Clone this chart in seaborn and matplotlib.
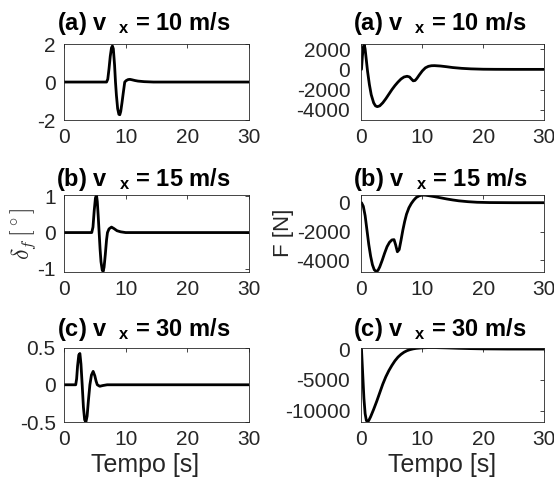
import numpy as np
import pandas as pd
import matplotlib
matplotlib.use('Agg')
import matplotlib.pyplot as plt
import seaborn as sns

# steering angle delta_f [deg] for each speed
t_d10 = [0, 6.9, 7.1, 7.3, 7.5, 7.7, 7.85, 8.0, 8.2, 8.35, 8.5, 8.7, 8.9, 9.05, 9.2, 9.4,
         9.6, 9.85, 10.1, 10.4, 10.7, 11.0, 11.5, 12.0, 13.0, 14.5, 30]
d10 = [0, 0, 0.15, 0.7, 1.35, 1.8, 1.9, 1.75, 0.9, 0.0, -0.7, -1.4, -1.7, -1.72, -1.55, -1.1,
       -0.6, 0.0, 0.08, 0.13, 0.14, 0.12, 0.08, 0.05, 0.02, 0.0, 0]
t_d15 = [0, 4.5, 4.7, 4.9, 5.1, 5.27, 5.4, 5.55, 5.7, 5.85, 6.0, 6.2, 6.35, 6.5, 6.7, 6.9,
         7.05, 7.3, 7.7, 8.1, 8.6, 9.2, 10.0, 30]
d15 = [0, 0, 0.15, 0.6, 0.95, 1.03, 0.85, 0.45, 0.0, -0.45, -0.8, -1.03, -1.07, -0.95, -0.6, -0.2,
       0.0, 0.1, 0.15, 0.11, 0.05, 0.02, 0.0, 0]
t_d30 = [0, 1.9, 2.05, 2.2, 2.4, 2.58, 2.75, 2.95, 3.15, 3.35, 3.55, 3.75, 3.95, 4.2, 4.45,
         4.73, 5.0, 5.2, 5.4, 5.8, 6.3, 7.0, 30]
d30 = [0, 0, 0.08, 0.25, 0.4, 0.42, 0.28, 0.0, -0.3, -0.47, -0.5, -0.42, -0.22, 0.0, 0.13,
       0.18, 0.12, 0.05, 0.0, -0.02, -0.01, 0.0, 0]

# force F [N] for each speed
t_f10 = [0, 0.15, 0.3, 0.45, 0.6, 0.8, 1.0, 1.3, 1.6, 2.0, 2.3, 2.6, 3.0, 3.5, 4.0, 4.5, 5.0,
         5.5, 6.0, 6.5, 7.0, 7.5, 7.9, 8.2, 8.5, 8.8, 9.1, 9.5, 10.0, 10.5, 11.0, 11.5, 12.0,
         13.0, 14.0, 15.0, 16.5, 18, 20, 22, 25, 30]
f10 = [0, 1300, 2200, 2450, 2000, 900, -200, -1500, -2500, -3300, -3600, -3680, -3600, -3300,
       -2900, -2450, -2000, -1600, -1250, -950, -750, -680, -750, -950, -1130, -1100, -900,
       -550, -150, 150, 300, 360, 370, 330, 260, 180, 100, 50, 15, 5, 0, 0]
t_f15 = [0, 0.3, 0.6, 0.9, 1.2, 1.5, 1.8, 2.1, 2.4, 2.7, 3.0, 3.4, 3.8, 4.2, 4.6, 5.0, 5.35,
         5.6, 5.9, 6.2, 6.5, 6.8, 7.1, 7.4, 7.8, 8.2, 8.6, 9.0, 9.5, 10.0, 10.5, 11.0, 12.0,
         13.0, 14.0, 15.0, 16.0, 17.5, 19, 21, 25, 30]
f15 = [0, -250, -900, -1900, -2900, -3700, -4300, -4650, -4760, -4700, -4450, -4000, -3500,
       -3050, -2750, -2580, -2560, -2900, -3400, -3250, -2600, -1900, -1300, -800, -350, -50,
       180, 360, 480, 530, 520, 490, 420, 340, 260, 190, 130, 70, 30, 10, 0, 0]
t_f30 = [0, 0.2, 0.4, 0.6, 0.8, 1.0, 1.2, 1.5, 2.0, 2.5, 3.0, 3.5, 4.0, 4.5, 5.0, 5.5, 6.0,
         6.5, 7.0, 7.5, 8.0, 8.5, 9, 10, 11, 12, 14, 16, 18, 20, 24, 30]
f30 = [0, -4000, -8000, -10500, -11600, -11850, -11600, -11000, -9800, -8500, -7100, -5700,
       -4500, -3500, -2650, -1900, -1300, -850, -500, -250, -80, 40, 120, 210, 250, 250, 200,
       130, 80, 40, 10, 0]

titles = ['(a) v  $_\\mathbf{x}$ = 10 m/s', '(b) v  $_\\mathbf{x}$ = 15 m/s',
          '(c) v  $_\\mathbf{x}$ = 30 m/s']
left_data = [(t_d10, d10), (t_d15, d15), (t_d30, d30)]
right_data = [(t_f10, f10), (t_f15, f15), (t_f30, f30)]
left_yticks = [[-2, 0, 2], [-1, 0, 1], [-0.5, 0, 0.5]]
left_ylim = [(-2, 2), (-1.07, 1.03), (-0.5, 0.5)]
right_yticks = [[-4000, -2000, 0, 2000], [-4000, -2000, 0], [-10000, -5000, 0]]
right_ylim = [(-5000, 2500), (-4770, 530), (-11860, 260)]

sns.set_theme(style='white')
plt.rcParams['font.family'] = ['Liberation Sans', 'DejaVu Sans']
plt.rcParams['mathtext.fontset'] = 'custom'
plt.rcParams['mathtext.rm'] = 'Liberation Sans'
plt.rcParams['mathtext.bf'] = 'Liberation Sans:bold'
plt.rcParams['mathtext.it'] = 'Liberation Sans:italic'

fig = plt.figure(figsize=(5.54, 4.84), dpi=100)
lefts = [0.1155, 0.6525]
widths = [0.334, 0.3294]
bottoms = [0.752, 0.439, 0.128]
heights = [0.157, 0.158, 0.154]
title_pads = [10, 6.5, 8]
ypads = [6, 8]

def style(ax, yticks, ylim, ypad):
    ax.set_xlim(0, 30)
    ax.set_ylim(*ylim)
    ax.set_xticks([0, 10, 20, 30])
    ax.set_yticks(yticks)
    ax.set_yticklabels([f'{v:g}' for v in yticks])
    ax.set_xlabel('')
    ax.set_ylabel('')
    ax.tick_params(direction='in', length=3, width=0.6, colors='#262626',
                   labelsize=15, top=True, right=True, pad=6)
    ax.tick_params(axis='y', pad=ypad)
    for s in ax.spines.values():
        s.set_color('#262626')
        s.set_linewidth(0.6)

for i in range(3):
    for j, (data, yt, yl) in enumerate([(left_data, left_yticks, left_ylim),
                                        (right_data, right_yticks, right_ylim)]):
        ax = fig.add_axes([lefts[j], bottoms[i], widths[j], heights[i]])
        t, v = data[i]
        sns.lineplot(x=t, y=v, ax=ax, color='black', linewidth=2)
        style(ax, yt[i], yl[i], ypads[j])
        ax.set_title(titles[i], fontsize=17, fontweight='bold', pad=title_pads[i], color='black')
        ax.title.set_x(0.43)
        if i == 2:
            ax.set_xlabel('Tempo [s]', fontsize=18, color='#262626')
            ax.xaxis.set_label_coords(0.44, -0.41)

fig.text(0.042, 0.518, r'$\delta_f\,[^\circ]$', rotation=90, ha='center', va='center',
         fontsize=17, color='#262626', math_fontfamily='cm')
fig.text(0.512, 0.518, 'F [N]', rotation=90, ha='center', va='center',
         fontsize=16, color='#262626')

fig.savefig('out.png', dpi=100)
